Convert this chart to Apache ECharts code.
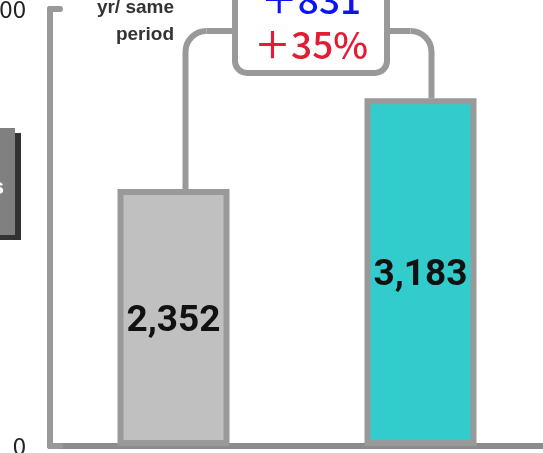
<!DOCTYPE html>
<html>
<head>
<meta charset="utf-8">
<script src="https://cdn.jsdelivr.net/npm/echarts@6/dist/echarts.min.js"></script>
<style>
  html, body { margin: 0; padding: 0; background: #fff; }
  #chart { width: 543px; height: 453px; }
</style>
</head>
<body>
<div id="chart"></div>
<script>
// Two periods compared, with the year-on-year change called out above them
const categories = ['prev', 'curr'];
const values = [2352, 3183];
const barColors = ['#c0c0c0', '#33cccc'];
const yTicks = [0, 4000];
const diffText = '＋831';
const pctText = '＋35%';
const noteLines = ['yr/ same', 'period'];
const sideTag = 'Units';

const fmt = v => v.toLocaleString('en-US');
const chart = echarts.init(document.getElementById('chart'));

chart.setOption({
  animation: false,
  grid: { left: 50, right: -1, top: 9, bottom: 7, containLabel: false, outerBoundsMode: 'none' },
  xAxis: {
    type: 'category',
    data: categories,
    axisLine: { lineStyle: { color: '#8c8c8c', width: 6, cap: 'round' } },
    axisTick: { show: false },
    axisLabel: { show: false }
  },
  yAxis: {
    type: 'value',
    min: yTicks[0],
    max: yTicks[1],
    interval: yTicks[1] - yTicks[0],
    splitLine: { show: false },
    axisLine: { show: true, lineStyle: { color: '#999', width: 6, cap: 'round' } },
    axisTick: { show: true, inside: true, length: 10, lineStyle: { color: '#999', width: 6, cap: 'round' } },
    axisLabel: {
      margin: 24, fontSize: 24, color: '#222',
      fontFamily: 'Noto Sans CJK JP',
      formatter: v => fmt(v)
    }
  },
  series: [{
    type: 'bar',
    barWidth: 112,
    data: values.map((v, i) => ({
      value: v,
      itemStyle: { color: barColors[i], borderColor: '#999', borderWidth: 6 }
    })),
    label: {
      show: true, position: 'inside', offset: [0, 4],
      fontSize: 37, fontWeight: 'bold', color: '#111',
      fontFamily: 'Roboto',
      formatter: p => fmt(p.value)
    }
  }]
});

// Connector bracket and annotation box, placed from the bars' pixel positions
const topL = chart.convertToPixel({ seriesIndex: 0 }, [0, values[0]]);
const topR = chart.convertToPixel({ seriesIndex: 0 }, [1, values[1]]);
const xL = topL[0] + 12;
const xR = topR[0] + 11;
const yH = 31;
const r = 21;
const boxL = 235, boxR = 387, boxTop = -40, boxBot = 73;
const conn = { stroke: '#999', lineWidth: 6, fill: null };

chart.setOption({
  graphic: [
    { type: 'line', z: 10, shape: { x1: xL, y1: topL[1], x2: xL, y2: yH + r }, style: conn },
    { type: 'arc', z: 10, shape: { cx: xL + r, cy: yH + r, r: r, startAngle: Math.PI, endAngle: Math.PI * 1.5, clockwise: true }, style: conn },
    { type: 'line', z: 10, shape: { x1: xL + r, y1: yH, x2: boxL, y2: yH }, style: conn },
    { type: 'line', z: 10, shape: { x1: boxR, y1: yH, x2: xR - r, y2: yH }, style: conn },
    { type: 'arc', z: 10, shape: { cx: xR - r, cy: yH + r, r: r, startAngle: Math.PI * 1.5, endAngle: Math.PI * 2, clockwise: true }, style: conn },
    { type: 'line', z: 10, shape: { x1: xR, y1: yH + r, x2: xR, y2: topR[1] }, style: conn },
    {
      type: 'rect', z: 11,
      shape: { x: boxL, y: boxTop, width: boxR - boxL, height: boxBot - boxTop, r: 12 },
      style: { fill: '#fff', stroke: '#999', lineWidth: 6 }
    },
    {
      type: 'text', z: 12, x: (boxL + boxR) / 2, y: 0,
      style: { text: diffText, fill: '#0d14f2', font: '500 37px "Noto Sans CJK JP"', align: 'center', verticalAlign: 'middle' }
    },
    {
      type: 'text', z: 12, x: (boxL + boxR) / 2, y: 45,
      style: { text: pctText, fill: '#e31b33', font: '500 37px "Noto Sans CJK JP"', align: 'center', verticalAlign: 'middle' }
    },
    {
      type: 'text', z: 12, x: 174, y: 8,
      style: { text: noteLines[0], fill: '#333', font: 'bold 19px "Liberation Sans"', align: 'right', verticalAlign: 'middle' }
    },
    {
      type: 'text', z: 12, x: 174, y: 35,
      style: { text: noteLines[1], fill: '#333', font: 'bold 19px "Liberation Sans"', align: 'right', verticalAlign: 'middle' }
    },
    {
      type: 'rect', z: 5,
      shape: { x: -100, y: 133, width: 121, height: 107 },
      style: { fill: '#333' }
    },
    {
      type: 'rect', z: 6,
      shape: { x: -100, y: 128, width: 115, height: 107 },
      style: { fill: '#808080' }
    },
    {
      type: 'text', z: 7, x: 4, y: 188,
      style: { text: sideTag, fill: '#fff', font: 'bold 22px "Liberation Sans"', align: 'right', verticalAlign: 'middle' }
    }
  ]
});
</script>
</body>
</html>
